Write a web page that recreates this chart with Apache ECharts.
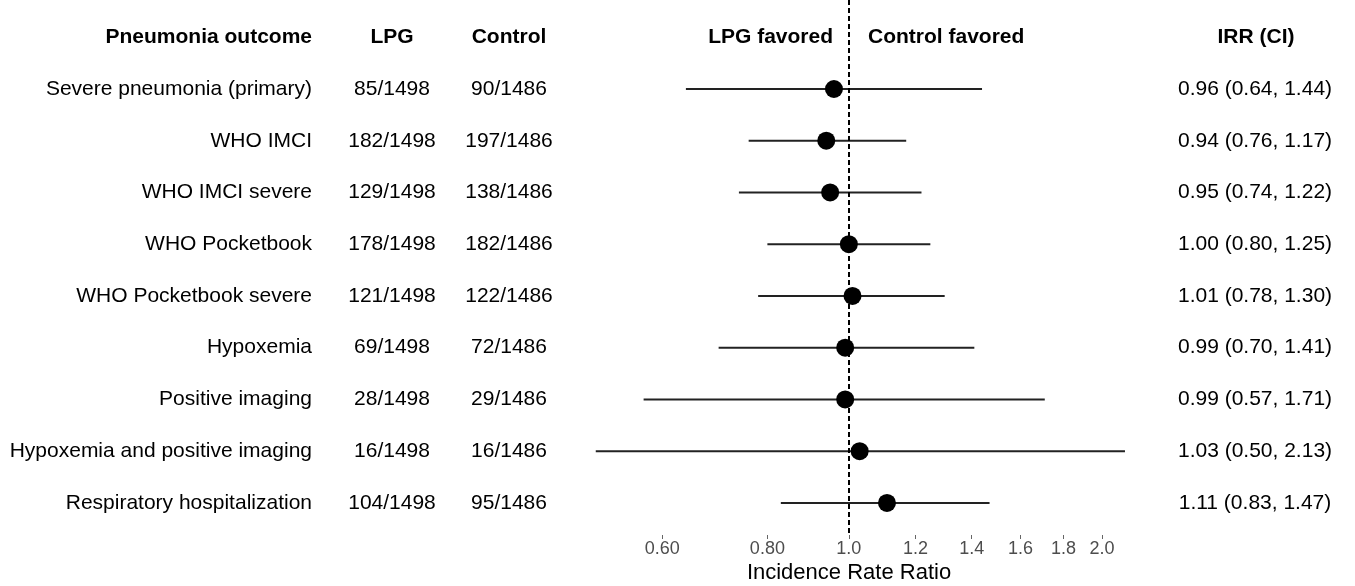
<!DOCTYPE html>
<html><head><meta charset="utf-8">
<script src="https://cdn.jsdelivr.net/npm/echarts@6/dist/echarts.min.js"></script>
<style>html,body{margin:0;padding:0;background:#fff}#c{width:1355px;height:586px}</style>
</head><body><div id="c"></div>
<script>
const outcomes = ['Severe pneumonia (primary)','WHO IMCI','WHO IMCI severe','WHO Pocketbook','WHO Pocketbook severe','Hypoxemia','Positive imaging','Hypoxemia and positive imaging','Respiratory hospitalization'];
const lpgCounts = ['85/1498','182/1498','129/1498','178/1498','121/1498','69/1498','28/1498','16/1498','104/1498'];
const controlCounts = ['90/1486','197/1486','138/1486','182/1486','122/1486','72/1486','29/1486','16/1486','95/1486'];
const irr = [0.96,0.94,0.95,1.00,1.01,0.99,0.99,1.03,1.11];
const ciLow = [0.64,0.76,0.74,0.80,0.78,0.70,0.57,0.50,0.83];
const ciHigh = [1.44,1.17,1.22,1.25,1.30,1.41,1.71,2.13,1.47];
const tickValues = [0.6,0.8,1.0,1.2,1.4,1.6,1.8,2.0];
const tickLabels = ['0.60','0.80','1.0','1.2','1.4','1.6','1.8','2.0'];

const fmt = v => v.toFixed(2);
const irrLabels = irr.map((v,i)=> fmt(v)+' ('+fmt(ciLow[i])+', '+fmt(ciHigh[i])+')');
const rows = outcomes.map((_,i)=>i);
const lnTicks = tickValues.map(Math.log);
const font = "'Liberation Sans', Arial, sans-serif";
const YMIN = -1.72, YMAX = 8.62;

function yAx(labels, pos, offset, align){
  return {type:'value', inverse:true, min:YMIN, max:YMAX, position:pos, offset:offset,
    axisLine:{show:false}, axisTick:{show:false}, splitLine:{show:false},
    axisLabel:{customValues:rows, margin:0, align:align, color:'#000', fontSize:21, fontFamily:font,
      formatter:v=>labels[Math.round(v)]}};
}

const chart = echarts.init(document.getElementById('c'), null, {renderer:'canvas'});
chart.setOption({
  backgroundColor:'#fff',
  animation:false,
  grid:{left:575, top:0, width:566, height:535, containLabel:false},
  xAxis:{type:'value', min:-0.75, max:0.80,
    axisLine:{show:false, onZero:false}, splitLine:{show:false},
    axisTick:{show:true, customValues:lnTicks, length:4, lineStyle:{color:'#666', width:1}},
    axisLabel:{customValues:lnTicks, margin:5, color:'#4d4d4d', fontSize:18, fontFamily:font,
      formatter:v=>{let b=0;lnTicks.forEach((t,i)=>{if(Math.abs(t-v)<Math.abs(lnTicks[b]-v))b=i;});return tickLabels[b];}}},
  yAxis:[
    yAx(outcomes,'left',263,'right'),
    yAx(lpgCounts,'left',183,'center'),
    yAx(controlCounts,'left',66,'center'),
    yAx(irrLabels,'right',114,'center')
  ],
  graphic:[
    {type:'text', x:312, y:37, style:{text:'Pneumonia outcome', font:'bold 21px '+font, fill:'#000', align:'right', verticalAlign:'middle'}},
    {type:'text', x:392, y:37, style:{text:'LPG', font:'bold 21px '+font, fill:'#000', align:'center', verticalAlign:'middle'}},
    {type:'text', x:509, y:37, style:{text:'Control', font:'bold 21px '+font, fill:'#000', align:'center', verticalAlign:'middle'}},
    {type:'text', x:833, y:37, style:{text:'LPG favored', font:'bold 21px '+font, fill:'#000', align:'right', verticalAlign:'middle'}},
    {type:'text', x:868, y:37, style:{text:'Control favored', font:'bold 21px '+font, fill:'#000', align:'left', verticalAlign:'middle'}},
    {type:'text', x:1256, y:37, style:{text:'IRR (CI)', font:'bold 21px '+font, fill:'#000', align:'center', verticalAlign:'middle'}},
    {type:'text', x:849, y:573, style:{text:'Incidence Rate Ratio', font:'22px '+font, fill:'#000', align:'center', verticalAlign:'middle'}}
  ],
  series:[
    {type:'custom', xAxisIndex:0, yAxisIndex:0,
      data: rows.map(i=>[Math.log(ciLow[i]), Math.log(ciHigh[i]), i]),
      encode:{x:[0,1], y:2},
      renderItem:(params, api)=>{
        const a = api.coord([api.value(0), api.value(2)]);
        const b = api.coord([api.value(1), api.value(2)]);
        return {type:'line', shape:{x1:a[0],y1:a[1],x2:b[0],y2:b[1]}, style:{stroke:'#222', lineWidth:2}};
      },
      z:2},
    {type:'scatter', xAxisIndex:0, yAxisIndex:0, symbol:'circle', symbolSize:18,
      itemStyle:{color:'#000', opacity:1},
      data: rows.map(i=>[Math.log(irr[i]), i]), z:4,
      markLine:{silent:true, symbol:'none', label:{show:false},
        lineStyle:{color:'#000', width:2, type:[5,3]},
        data:[{xAxis:0}]}}
  ]
});
</script></body></html>
